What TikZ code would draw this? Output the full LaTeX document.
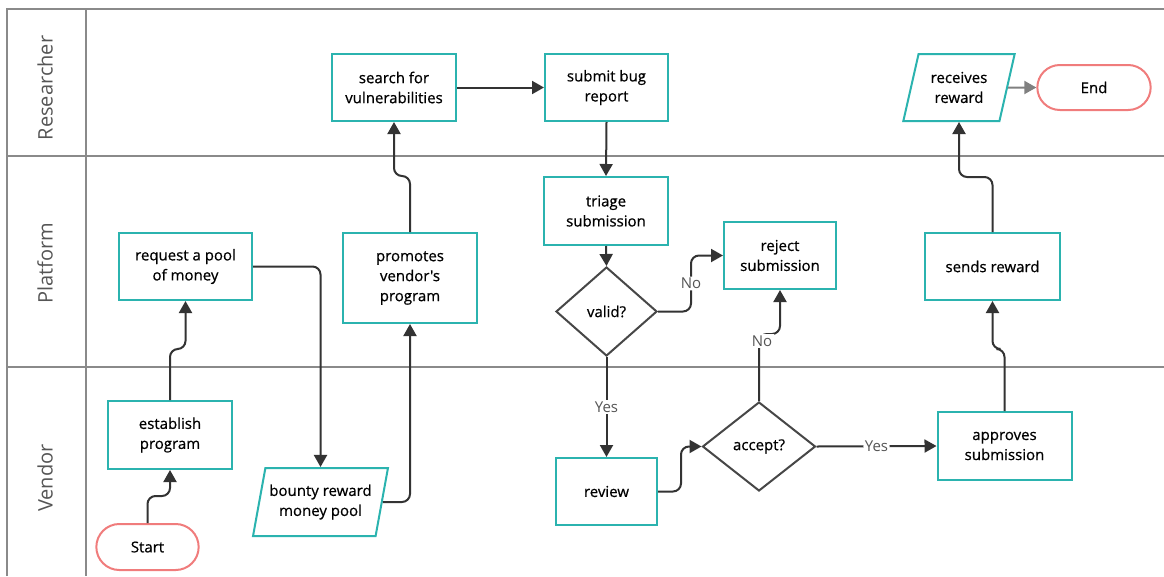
\documentclass[tikz,border=0pt]{standalone}
\usepackage{fontspec}
\setmainfont{Open Sans}
\newfontfamily\nodefont{Open Sans}[FakeBold=0.6]
\usetikzlibrary{arrows.meta,shapes.geometric,shapes.misc}
\definecolor{boxteal}{HTML}{2BB3AF}
\definecolor{startred}{HTML}{F07C7C}
\definecolor{lineclr}{HTML}{333333}
\definecolor{frameclr}{HTML}{8A8A8A}
\definecolor{labclr}{HTML}{555555}
\definecolor{endarrow}{HTML}{808080}
\begin{document}
\begin{tikzpicture}[x=1pt,y=-1pt,
  box/.style={draw=boxteal, line width=2pt, fill=white, align=center, inner sep=2pt,
    font=\nodefont\fontsize{15}{20}\selectfont},
  para/.style={box, trapezium, trapezium left angle=#1, trapezium right angle={180-#1}, trapezium stretches=true},
  term/.style={draw=startred, line width=2pt, fill=white, rounded rectangle, align=center,
    font=\nodefont\fontsize{15}{20}\selectfont},
  decision/.style={draw=lineclr!90, line width=2pt, fill=white, diamond, inner sep=0pt, align=center,
    font=\nodefont\fontsize{15}{20}\selectfont},
  lane/.style={text=labclr, font=\fontsize{20}{24}\selectfont, rotate=90},
  frame/.style={draw=frameclr, line width=2pt},
  arr/.style={draw=lineclr, line width=2pt, rounded corners=8pt, -{Triangle[length=12pt,width=13pt]}},
  lab/.style={fill=white, text=labclr, inner sep=1.5pt, font=\fontsize{15}{18}\selectfont}
]
\useasboundingbox (0,0) rectangle (1164,576);
% frame and lanes
\draw[frame] (7,576) -- (7,9) -- (1164,9);
\draw[frame] (86,9) -- (86,576);
\draw[frame] (7,156) -- (1164,156);
\draw[frame] (7,367) -- (1164,367);
\node[lane] (lres) at (45,88) {Researcher};
\node[lane] (lplat) at (45,263) {Platform};
\node[lane] (lven) at (45,478) {Vendor};

% nodes
\node[box, minimum width=124, minimum height=67] (search) at (394,87.5) {search for\\vulnerabilities};
\node[box, minimum width=123, minimum height=67] (submit) at (606.5,87.5) {submit bug\\report};
\node[para=72, minimum width=112, minimum height=67] (rr) at (959,87.5) {receives\\reward};
\node[term, minimum width=120, minimum height=45] (endn) at (1094,87.5) {End};
\node[box, minimum width=124, minimum height=68] (triage) at (606,211) {triage\\submission};
\node[decision, minimum width=101, minimum height=89] (valid) at (606.5,311.5) {valid?};
\node[box, minimum width=112, minimum height=67] (reject) at (780,255.5) {reject\\submission};
\node[box, minimum width=135, minimum height=67] (sends) at (992.5,266.5) {sends reward};
\node[box, minimum width=133, minimum height=67] (request) at (185.5,266.5) {request a pool\\of money};
\node[box, minimum width=134, minimum height=90] (promotes) at (410,278) {promotes\\vendor's\\program};
\node[box, minimum width=124, minimum height=68] (establish) at (170,435) {establish\\program};
\node[term, minimum width=109, minimum height=46] (start) at (147.5,547) {Start};
\node[para=73, minimum width=135, minimum height=68] (bounty) at (320.5,502) {bounty reward\\money pool};
\node[box, minimum width=101, minimum height=67] (review) at (606.5,491.5) {review};
\node[decision, minimum width=113, minimum height=89] (accept) at (759,446.5) {accept?};
\node[box, minimum width=134, minimum height=68] (approves) at (1004.5,446) {approves\\submission};

% connectors
\draw[arr] (start.north) -- ++(0,-27) -| (establish.south);
\draw[arr] (establish.north) -- ++(0,-51) -| (request.south);
\draw[arr] (request.east) -| (bounty.north);
\draw[arr] (bounty.east) -| (promotes.south);
\draw[arr] (promotes.north) -- ++(0,-56) -| (search.south);
\draw[arr] (search.east) -- (submit.west);
\draw[arr] (submit.south) -- (triage.north);
\draw[arr] (triage.south) -- (valid.north);
\draw[arr] (valid.east) -- ++(33,0) |- node[lab,pos=0.25]{No} (reject.west);
\draw[arr] (valid.south) -- node[lab]{Yes} (review.north);
\draw[arr] (review.east) -- ++(23,0) |- (accept.west);
\draw[arr] (accept.north) -- ++(0,-67) -| (reject.south);
\node[lab] (nolab) at (762,341) {No};
\draw[arr] (accept.east) -- node[lab]{Yes} (approves.west);
\draw[arr] (approves.north) -- ++(0,-62) -| (sends.south);
\draw[arr] (sends.north) -- ++(0,-55) -| (rr.south);
\draw[arr, draw=endarrow] (rr.east) -- (endn.west);
\end{tikzpicture}
\end{document}
